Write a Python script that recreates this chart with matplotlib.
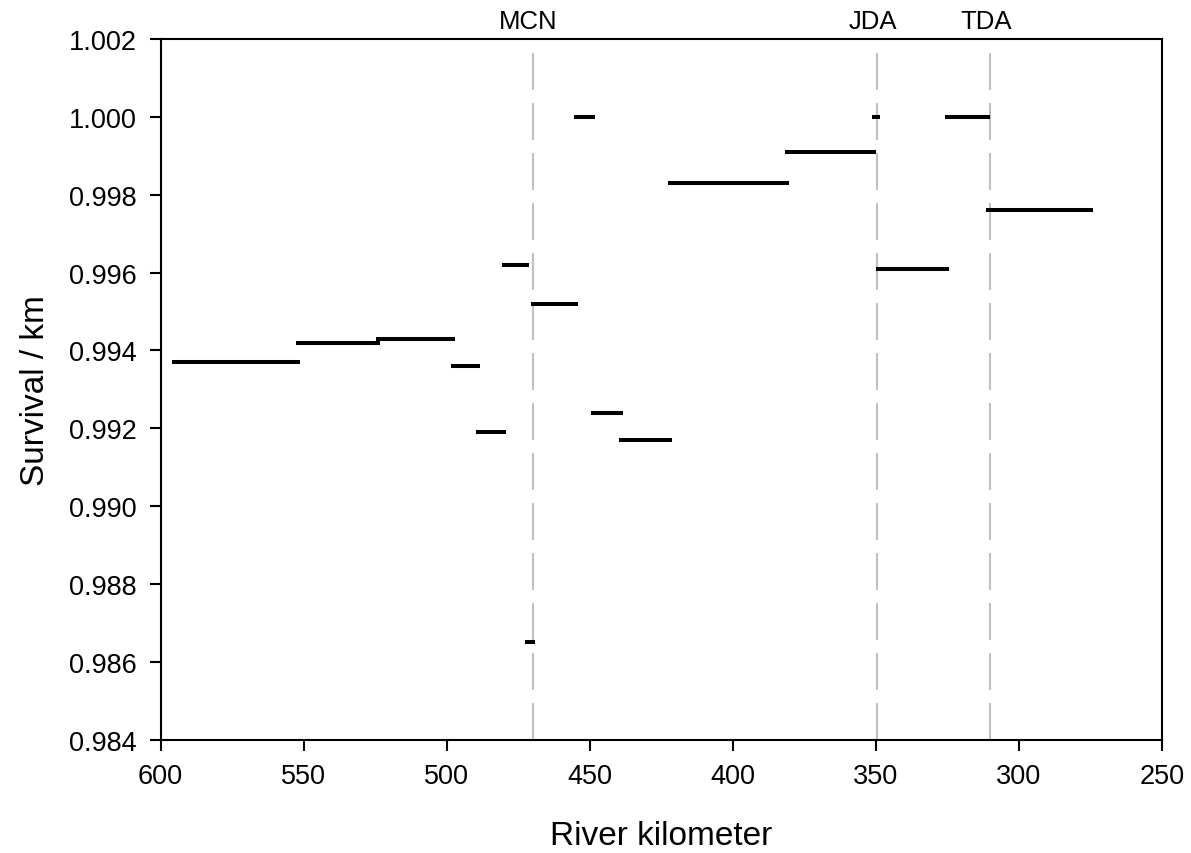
import numpy as np
import matplotlib
matplotlib.use('Agg')
import matplotlib.pyplot as plt

plt.rcParams['font.family'] = ['Liberation Sans', 'DejaVu Sans']
plt.rcParams['lines.scale_dashes'] = False

# reach boundaries (river km) and survival per km
reach_start = [595.3, 552.0, 524.0, 497.8, 489.0, 480.0, 472.0, 470.0, 455.0,
               449.0, 439.0, 422.0, 381.0, 350.7, 349.2, 325.0, 310.7]
reach_end = [552.0, 524.0, 497.8, 489.0, 480.0, 472.0, 470.0, 455.0, 449.0,
             439.0, 422.0, 381.0, 350.7, 349.2, 325.0, 310.7, 274.8]
survival = [0.9937, 0.9942, 0.9943, 0.9936, 0.9919, 0.9962, 0.9865, 0.9952, 1.0000,
            0.9924, 0.9917, 0.9983, 0.9991, 1.0000, 0.9961, 1.0000, 0.9976]

dam_names = ['MCN', 'JDA', 'TDA']
dam_km = [470.0, 349.5, 310.0]

x_ticks = [600, 550, 500, 450, 400, 350, 300, 250]
y_ticks = [0.984, 0.986, 0.988, 0.990, 0.992, 0.994, 0.996, 0.998, 1.000, 1.002]

fig = plt.figure(figsize=(11.91, 8.54), dpi=100)
ax = fig.add_axes([0.1349, 0.1327, 0.8408, 0.8205])

y0, y1 = 0.984, 1.002

# dam lines (dashed, grey), drawn bottom to top
for name, km in zip(dam_names, dam_km):
    ax.plot([km, km], [y0, y1], color='#c0c0c0', lw=1.5, dashes=(26.6, 9.4), zorder=1)
    ax.annotate(name, xy=(km, 1), xycoords=('data', 'axes fraction'),
                xytext=(-3, 4), textcoords='offset points',
                ha='center', va='bottom', fontsize=18.5)

ax.hlines(survival, reach_start, reach_end, colors='black', lw=2.9,
          capstyle='projecting', zorder=3)

ax.set_xlim(600, 250)
ax.set_ylim(y0, y1)
ax.set_xticks(x_ticks)
ax.set_yticks(y_ticks)
ax.set_yticklabels(['%.3f' % v for v in y_ticks])

for s in ax.spines.values():
    s.set_linewidth(1.5)
ax.tick_params(direction='out', length=8, width=1.5, labelsize=19.5, pad=9,
               top=False, right=False)

ax.set_xlabel('River kilometer', fontsize=24, labelpad=22)
ax.set_ylabel('Survival / km', fontsize=24, labelpad=13)

fig.savefig('out.png', dpi=100)
